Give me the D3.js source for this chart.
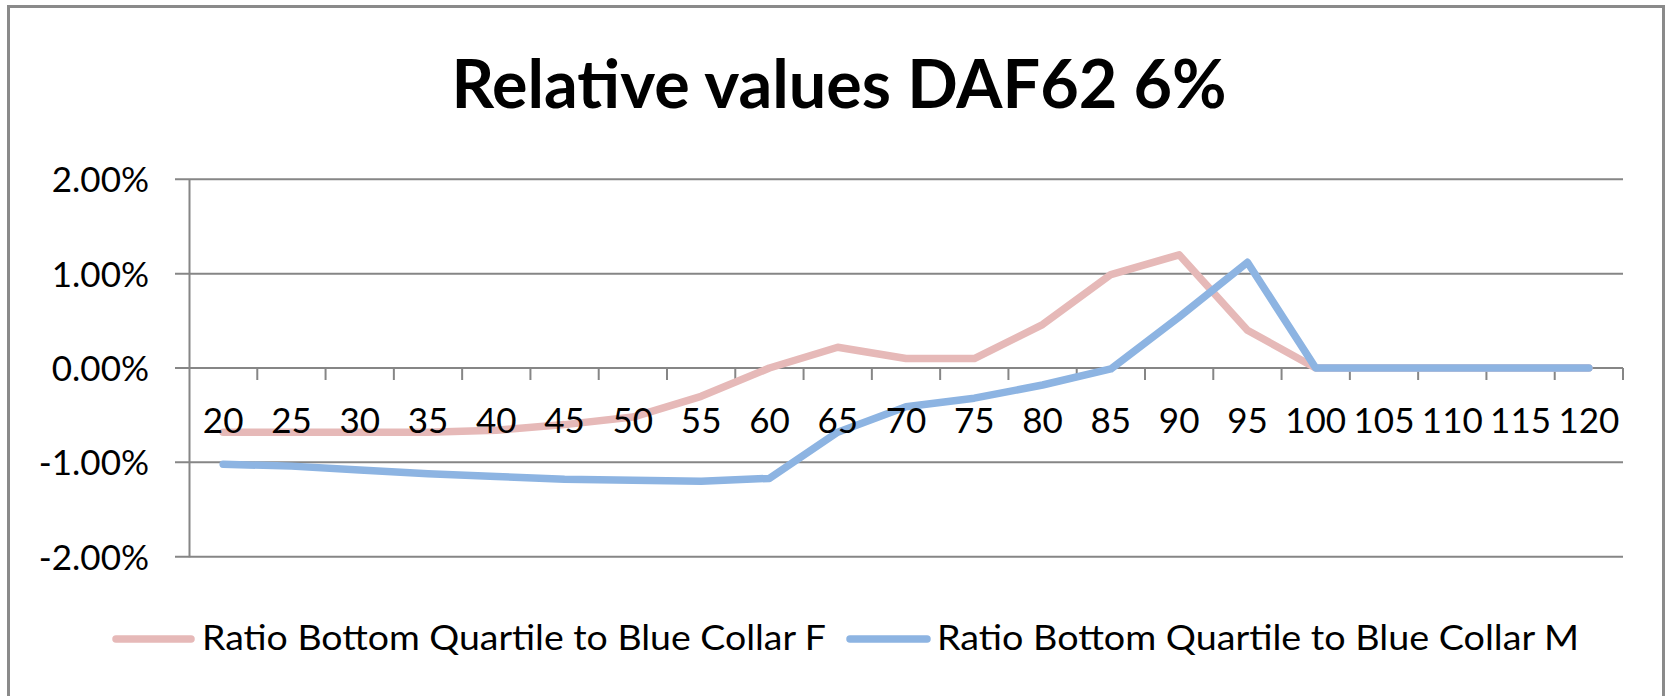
<!DOCTYPE html>
<html>
<head>
<meta charset="utf-8">
<script src="https://cdn.jsdelivr.net/npm/d3@7"></script>
<style>
  html, body { margin: 0; padding: 0; background: #fff; }
  svg { display: block; }
  text { font-family: Lato, "Open Sans", sans-serif; fill: #000; }
</style>
</head>
<body>
<svg id="chart" width="1665" height="696"></svg>
<script>
// ---- data ----
const title = "Relative values DAF62 6%";
const categories = ["20","25","30","35","40","45","50","55","60","65","70","75","80","85","90","95","100","105","110","115","120"];
const seriesNames = ["Ratio Bottom Quartile to Blue Collar F", "Ratio Bottom Quartile to Blue Collar M"];
const seriesF = [-0.0068,-0.0068,-0.0068,-0.0068,-0.0066,-0.0060,-0.0052,-0.0030,0.0000,0.0022,0.0010,0.0010,0.0046,0.0099,0.0120,0.0040,0,0,0,0,0];
const seriesM = [-0.0102,-0.0104,-0.0108,-0.0112,-0.0115,-0.0118,-0.0119,-0.0120,-0.0117,-0.0068,-0.0041,-0.0032,-0.0018,-0.0001,0.0054,0.0112,0,0,0,0,0];
const yTicks = [-0.02,-0.01,0,0.01,0.02];
const colors = ["#E6B9B8", "#8DB4E2"];

// ---- layout ----
const svg = d3.select("#chart");
const plot = {left: 189, right: 1623, top: 179.3, bottom: 556.7};
const gridColor = "#868686";

// border
svg.append("rect")
  .attr("x", 8.5).attr("y", 6.5).attr("width", 1655).attr("height", 720)
  .attr("fill", "none").attr("stroke", "#8a8a8a").attr("stroke-width", 3);

// title
svg.append("text")
  .attr("x", 839).attr("y", 108)
  .attr("text-anchor", "middle")
  .attr("font-size", 66).attr("font-weight", "bold")
  .attr("textLength", 775).attr("lengthAdjust", "spacingAndGlyphs")
  .text(title);

const x = d3.scaleBand().domain(categories).range([plot.left, plot.right]).padding(0);
const y = d3.scaleLinear().domain([-0.02, 0.02]).range([plot.bottom, plot.top]);
const fmt = d3.formatLocale({decimal: ".", thousands: ",", grouping: [3], currency: ["", ""], minus: "-"}).format(".2%");

// gridlines (with left tick stubs)
svg.append("g").selectAll("line").data(yTicks).join("line")
  .attr("x1", plot.left - 14).attr("x2", plot.right)
  .attr("y1", d => y(d)).attr("y2", d => y(d))
  .attr("stroke", gridColor).attr("stroke-width", 2);

// y axis
const yAxis = d3.axisLeft(y).tickValues(yTicks).tickFormat(fmt).tickSize(0).tickPadding(40);
const gy = svg.append("g").attr("transform", `translate(${plot.left},0)`).call(yAxis);
gy.select(".domain").attr("stroke", gridColor).attr("stroke-width", 2);
gy.selectAll("text").attr("font-size", 35).attr("font-family", "Lato, sans-serif").attr("fill", "#000").attr("dy", "0.36em");

// x axis line at zero with boundary ticks
const gx = svg.append("g").attr("transform", `translate(0,${y(0)})`);
gx.append("line").attr("x1", plot.left).attr("x2", plot.right).attr("y1", 0).attr("y2", 0)
  .attr("stroke", gridColor).attr("stroke-width", 2);
const boundaries = categories.map(c => x(c)).concat([plot.right]);
gx.selectAll("line.tick").data(boundaries.slice(1)).join("line").attr("class", "tick")
  .attr("x1", d => d).attr("x2", d => d).attr("y1", 0).attr("y2", 12)
  .attr("stroke", gridColor).attr("stroke-width", 2);

// lines
const line = d3.line().x((d, i) => x(categories[i]) + x.bandwidth() / 2).y(d => y(d));
[seriesF, seriesM].forEach((s, i) => {
  svg.append("path").datum(s)
    .attr("d", line)
    .attr("fill", "none")
    .attr("stroke", colors[i])
    .attr("stroke-width", 7.5)
    .attr("stroke-linejoin", "round")
    .attr("stroke-linecap", "round");
});

// x tick labels drawn above the lines
const xAxis = d3.axisBottom(x).tickSize(0).tickPadding(0);
const gxl = svg.append("g").attr("transform", `translate(0,${y(0)})`).call(xAxis);
gxl.select(".domain").remove();
gxl.selectAll("text").attr("font-size", 35).attr("font-family", "Lato, sans-serif").attr("fill", "#000")
  .attr("dy", null).attr("y", 64.5);

// legend
const legendItems = [
  {x1: 116, x2: 191, tx: 202, tl: 624},
  {x1: 850, x2: 927, tx: 937, tl: 642}
];
legendItems.forEach((it, i) => {
  svg.append("line").attr("x1", it.x1).attr("x2", it.x2).attr("y1", 639).attr("y2", 639)
    .attr("stroke", colors[i]).attr("stroke-width", 7.5).attr("stroke-linecap", "round");
  svg.append("text").attr("x", it.tx).attr("y", 650).attr("font-size", 35)
    .attr("textLength", it.tl).attr("lengthAdjust", "spacingAndGlyphs")
    .text(seriesNames[i]);
});
</script>
</body>
</html>
